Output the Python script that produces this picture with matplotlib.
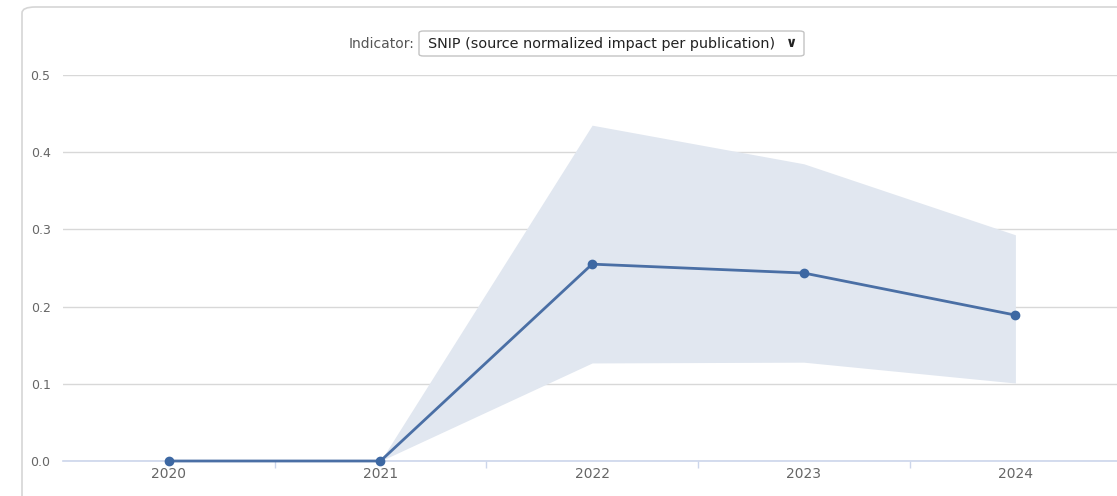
import matplotlib.pyplot as plt
from matplotlib.patches import FancyBboxPatch

# data
years = [2020, 2021, 2022, 2023, 2024]
snip = [0.0, 0.0, 0.255, 0.2435, 0.189]
band_years = [2021, 2022, 2023, 2024]
band_low = [0.0, 0.127, 0.128, 0.101]
band_high = [0.0, 0.435, 0.385, 0.293]
y_ticks = [0.0, 0.1, 0.2, 0.3, 0.4, 0.5]

fig = plt.figure(figsize=(11.17, 4.96), dpi=100)

# card outline behind the chart
card = FancyBboxPatch((22 / 1117, -0.1), 1.2, (496 - 7) / 496 + 0.1,
                      boxstyle="round,pad=0,rounding_size=0.012",
                      transform=fig.transFigure, facecolor="white",
                      edgecolor="#d6d6d6", linewidth=1.2, zorder=-5)
fig.patches.append(card)

ax = fig.add_axes([63 / 1117, 35 / 496, 1 - 63 / 1117, 386 / 496])
ax.set_facecolor("none")
ax.set_zorder(2)

ax.fill_between(band_years, band_low, band_high, color="#e1e7f0", linewidth=0, zorder=1)
ax.plot(years, snip, color="#4a6fa5", linewidth=2, marker="o", markersize=6,
        markerfacecolor="#3d68a3", markeredgecolor="#3d68a3", zorder=3, clip_on=False)

ax.set_xlim(2019.5, 2024.48)
ax.set_ylim(0, 0.5)
ax.set_yticks(y_ticks)
ax.set_yticklabels([f"{v:.1f}" for v in y_ticks])
ax.set_xticks(years)
ax.set_xticks([2020.5, 2021.5, 2022.5, 2023.5], minor=True)
ax.grid(axis="y", color="#d8d8d8", linewidth=1)
ax.set_axisbelow(True)

for s in ["top", "right", "left"]:
    ax.spines[s].set_visible(False)
ax.spines["bottom"].set_color("#ccd6eb")
ax.spines["bottom"].set_linewidth(1.2)

ax.tick_params(axis="y", length=0, pad=9, labelsize=9, labelcolor="#666666")
ax.tick_params(axis="x", which="major", length=0, pad=4, labelsize=10, labelcolor="#666666")
ax.tick_params(axis="x", which="minor", length=5, color="#ccd6eb", width=1)

# indicator selector above the plot
fig.text(414 / 1117, 1 - 44 / 496, "Indicator:", ha="right", va="center",
         fontsize=10, color="#555555")
box = FancyBboxPatch((419 / 1117, 1 - 56 / 496), (804 - 419) / 1117, 25 / 496,
                     boxstyle="round,pad=0,rounding_size=0.004",
                     transform=fig.transFigure, facecolor="white",
                     edgecolor="#c4c4c4", linewidth=1)
fig.patches.append(box)
fig.text(428 / 1117, 1 - 44 / 496, "SNIP (source normalized impact per publication)",
         ha="left", va="center", fontsize=10.4, color="#222222")
fig.text(792 / 1117, 1 - 43 / 496, "\u2228", ha="center", va="center",
         fontsize=10, color="#222222", fontweight="bold")

fig.savefig("out.png", dpi=100)
